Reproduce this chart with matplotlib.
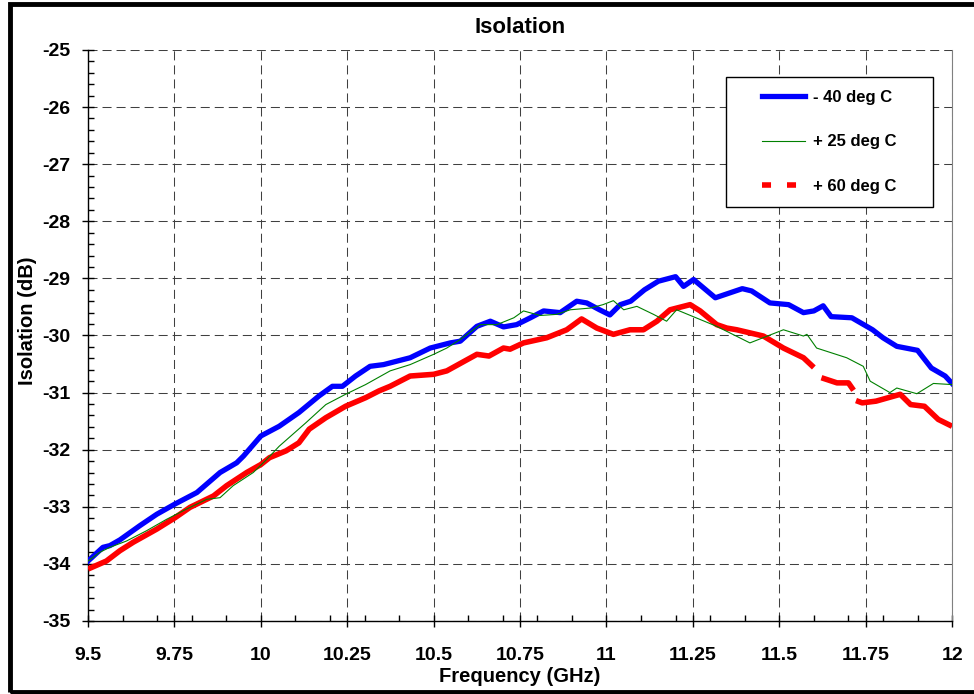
import matplotlib
matplotlib.use("Agg")
import matplotlib.pyplot as plt
import numpy as np
from matplotlib.lines import Line2D
from matplotlib.patches import Rectangle
from matplotlib.ticker import MultipleLocator, FuncFormatter

plt.rcParams['font.family'] = ['Liberation Sans', 'DejaVu Sans']
plt.rcParams['font.weight'] = 'bold'
plt.rcParams['lines.scale_dashes'] = False

# -40 deg C
f_cold = [9.5, 9.543, 9.563, 9.592, 9.65, 9.699, 9.752, 9.815, 9.882, 9.93, 9.95,
          10.0, 10.053, 10.11, 10.168, 10.207, 10.236, 10.274, 10.316, 10.355, 10.432,
          10.49, 10.548, 10.577, 10.625, 10.664, 10.702, 10.74, 10.78, 10.818, 10.866,
          10.914, 10.943, 10.98, 11.01, 11.04, 11.07, 11.11, 11.15, 11.2, 11.223,
          11.252, 11.315, 11.393, 11.42, 11.473, 11.527, 11.57, 11.6, 11.627, 11.65,
          11.71, 11.77, 11.8, 11.84, 11.9, 11.94, 11.98, 12.0]
v_cold = [-33.95, -33.71, -33.68, -33.58, -33.33, -33.13, -32.95, -32.75, -32.4, -32.23, -32.11,
          -31.76, -31.59, -31.35, -31.06, -30.89, -30.89, -30.71, -30.54, -30.51, -30.39,
          -30.22, -30.13, -30.1, -29.84, -29.75, -29.85, -29.81, -29.69, -29.57, -29.6,
          -29.4, -29.43, -29.55, -29.64, -29.46, -29.4, -29.2, -29.05, -28.97, -29.14,
          -29.02, -29.34, -29.18, -29.22, -29.43, -29.46, -29.6, -29.57, -29.48, -29.67,
          -29.69, -29.9, -30.04, -30.19, -30.26, -30.57, -30.71, -30.84]

# +25 deg C
f_room = [9.5, 9.533, 9.563, 9.611, 9.669, 9.727, 9.785, 9.843, 9.882, 9.92, 9.978,
          10.017, 10.053, 10.13, 10.188, 10.245, 10.303, 10.374, 10.432, 10.5, 10.538,
          10.577, 10.635, 10.683, 10.732, 10.76, 10.808, 10.856, 10.895, 10.953, 10.99,
          11.02, 11.05, 11.088, 11.136, 11.174, 11.203, 11.319, 11.415, 11.512, 11.57,
          11.58, 11.608, 11.695, 11.743, 11.763, 11.82, 11.84, 11.898, 11.946, 12.0]
v_room = [-33.95, -33.8, -33.71, -33.6, -33.42, -33.22, -33.04, -32.87, -32.84, -32.63, -32.4,
          -32.17, -31.94, -31.53, -31.21, -31.03, -30.86, -30.62, -30.51, -30.33, -30.22,
          -30.07, -29.81, -29.81, -29.69, -29.57, -29.65, -29.63, -29.55, -29.52, -29.46,
          -29.39, -29.55, -29.49, -29.63, -29.75, -29.55, -29.84, -30.13, -29.9, -30.01,
          -29.98, -30.22, -30.39, -30.54, -30.8, -31.0, -30.92, -31.02, -30.84, -30.86]

# +60 deg C (nan = gaps in the dashed trace)
f_hot = [9.5, 9.553, 9.592, 9.631, 9.699, 9.752, 9.795, 9.863, 9.901, 9.959, 10.0,
         10.025, 10.073, 10.11, 10.14, 10.188, 10.245, 10.303, 10.342, 10.374, 10.432,
         10.5, 10.538, 10.625, 10.66, 10.702, 10.721, 10.76, 10.827, 10.885, 10.928,
         10.972, 11.02, 11.068, 11.107, 11.146, 11.184, 11.242, 11.271, 11.319, 11.348,
         11.377, 11.454, 11.512, 11.57, 11.6, 11.61, 11.622, 11.667, 11.7, 11.715,
         11.72, 11.722, 11.74, 11.78, 11.85, 11.88, 11.92, 11.96, 12.0]
v_hot = [-34.09, -33.95, -33.77, -33.62, -33.39, -33.19, -33.01, -32.81, -32.63, -32.4, -32.26,
         -32.14, -32.02, -31.88, -31.64, -31.44, -31.24, -31.09, -30.97, -30.89, -30.71,
         -30.68, -30.62, -30.33, -30.36, -30.22, -30.24, -30.13, -30.04, -29.9, -29.71,
         -29.87, -29.98, -29.9, -29.9, -29.75, -29.55, -29.46, -29.57, -29.81, -29.87,
         -29.9, -30.01, -30.22, -30.39, -30.56, np.nan, -30.74, -30.83, -30.83, -30.96,
         np.nan, -31.14, -31.18, -31.15, -31.03, -31.21, -31.24, -31.47, -31.59]

labels = ['- 40 deg C', '+ 25 deg C', '+ 60 deg C']

fig = plt.figure(figsize=(9.74, 6.94), dpi=100)
ax = fig.add_axes([0.0904, 0.1052, 0.8871, 0.8228])

ax.plot(f_cold, v_cold, color='#0000ff', lw=3.8, solid_joinstyle='round', zorder=4)
ax.plot(f_room, v_room, color='#008000', lw=0.8, zorder=5)
ax.plot(f_hot, v_hot, color='#ff0000', lw=4.0, solid_capstyle='butt', zorder=3)

ax.set_xlim(9.5, 12)
ax.set_ylim(-35, -25)
ax.xaxis.set_major_locator(MultipleLocator(0.25))
ax.xaxis.set_minor_locator(MultipleLocator(0.1))
ax.yaxis.set_major_locator(MultipleLocator(1))
ax.yaxis.set_minor_locator(MultipleLocator(0.2))
ax.xaxis.set_major_formatter(FuncFormatter(lambda v, p: '%g' % v))
ax.yaxis.set_major_formatter(FuncFormatter(lambda v, p: '%g' % v))

ax.tick_params(axis='both', which='major', direction='inout', length=9, width=1,
               labelsize=14, color='black')
ax.tick_params(axis='x', which='major', pad=14)
ax.tick_params(axis='y', which='major', pad=8)
ax.tick_params(axis='both', which='minor', direction='in', length=4, width=1, color='black')
for lab in ax.get_xticklabels() + ax.get_yticklabels():
    lab.set_fontweight('bold')

ax.grid(True, which='major', color='#404040', lw=0.75, linestyle=(0, (6.5, 3.6)))
ax.set_axisbelow(True)

ax.spines['top'].set_visible(False)
ax.spines['right'].set_color('#808080')
ax.spines['left'].set_linewidth(1)
ax.spines['bottom'].set_linewidth(1)

ax.set_xlabel('Frequency (GHz)', fontsize=14.5, fontweight='bold')
ax.set_ylabel('Isolation (dB)', fontsize=14.5, fontweight='bold')
ax.xaxis.set_label_coords(0.5, -0.098)
ax.xaxis.label.set_va('center')
ax.yaxis.set_label_coords(-0.0706, 0.526)
ax.yaxis.label.set_va('center')

ax.text(0.5, 1.0292, 'Isolation', transform=ax.transAxes, ha='center', va='baseline',
        fontsize=16, fontweight='bold')

# legend
handles = [Line2D([], [], color='#0000ff', lw=3.8),
           Line2D([], [], color='#008000', lw=0.8),
           Line2D([], [], color='#ff0000', lw=4.0, linestyle=(0, (6.5, 11.5)), dash_capstyle='butt')]
leg = ax.legend(handles, labels, loc='center', bbox_to_anchor=(0.858, 0.839),
                frameon=False, prop={'size': 12, 'weight': 'bold'},
                handlelength=2.6, handletextpad=0.5, labelspacing=1.78)
ax.add_patch(Rectangle((0.738, 0.7255), 0.24, 0.2275, transform=ax.transAxes,
                       facecolor='white', edgecolor='black', lw=1, zorder=6))
leg.set_zorder(7)

# outer frame
fig.patches.append(Rectangle((9.5 / 974, 1 - 691.5 / 694), (985 - 9.5) / 974, (691.5 - 4) / 694,
                             transform=fig.transFigure, fill=False, edgecolor='black', lw=3.5))

fig.savefig('out.png', dpi=100)
